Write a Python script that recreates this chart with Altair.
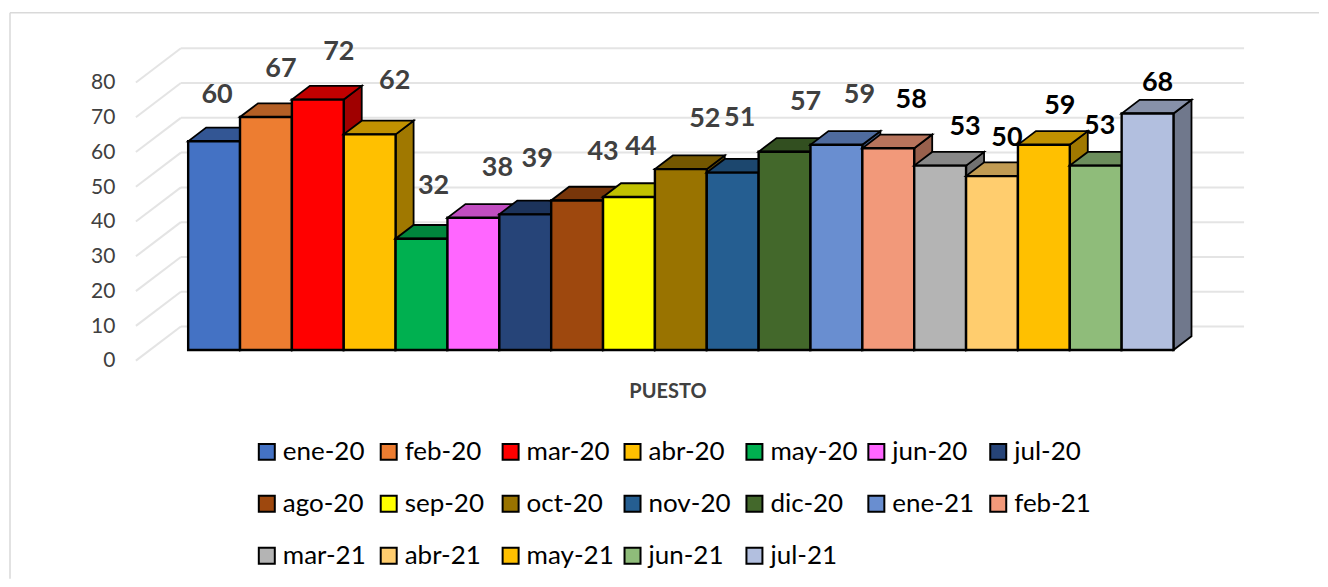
import altair as alt
import pandas as pd

months = ["ene-20","feb-20","mar-20","abr-20","may-20","jun-20","jul-20",
          "ago-20","sep-20","oct-20","nov-20","dic-20","ene-21","feb-21",
          "mar-21","abr-21","may-21","jun-21","jul-21"]
values = [60,67,72,62,32,38,39,43,44,52,51,57,59,58,53,50,59,53,68]
colors = ["#4472C4","#ED7D31","#FF0000","#FFC000","#00B050","#FF66FF","#264478",
          "#9E480E","#FFFF00","#997300","#255E91","#43682B","#698ED0","#F2997A",
          "#B4B4B4","#FFCD6E","#FFC000","#8FBC7A","#B2BFDF"]
# label nudges from the centre of each bar's top edge, in pixels
nudge_x = [3,15,21,25,12,24,12,26,12,24,7,21,23,23,25,15,16,4,10]
nudge_y = [46,48,48,53,53,50,55,48,50,50,55,50,50,48,39,38,39,40,31]
label_colors = ["#404040"]*13 + ["#000000"]*6
tick_values = [0,10,20,30,40,50,60,70,80]

W, H = 1312, 571
BAR_PX, UNIT_PX = 51.9, 3.48
X0_PAGE, Y0_PAGE = 188.3, 350.0
xdom = [(8-X0_PAGE)/BAR_PX, (8+W-X0_PAGE)/BAR_PX]
ydom = [(Y0_PAGE-(8+H))/UNIT_PX, (Y0_PAGE-8)/UNIT_PX]
DX, DY = 18/BAR_PX, 13.7/UNIT_PX
WALL_L, WALL_R = (181-X0_PAGE)/BAR_PX, (1245-X0_PAGE)/BAR_PX
FLOOR_L = (136-X0_PAGE)/BAR_PX
WALL_UP, FRONT_DOWN = (Y0_PAGE-326.5)/UNIT_PX, (Y0_PAGE-360.7)/UNIT_PX

xs = alt.Scale(domain=xdom, nice=False, zero=False)
ys = alt.Scale(domain=ydom, nice=False, zero=False)
fills = alt.Scale(domain=months, range=colors)
FONT = "Lato"

x_axis = alt.Axis(title="PUESTO", labels=False, ticks=False, domain=False, grid=False,
                  titleFont=FONT, titleFontSize=20, titleFontWeight="bold", titleColor="#404040",
                  titleX=660, titleY=-187, titleBaseline="middle")
y_axis = alt.Axis(values=tick_values, title=None, ticks=False, domain=False, grid=False,
                  offset=-107, labelPadding=0, labelOffset=11, labelFont=FONT, labelFontSize=21,
                  labelColor="#404040")

def shade(c, f):
    r, g, b = int(c[1:3],16), int(c[3:5],16), int(c[5:7],16)
    return "#%02X%02X%02X" % (int(r*f), int(g*f), int(b*f))

# frame
frame_top = alt.Chart(pd.DataFrame({"a":[0]})).mark_rule(color="#D9D9D9", strokeWidth=1.5).encode(
    x=alt.value(2), x2=alt.value(W), y=alt.value(4.5))
frame_left = alt.Chart(pd.DataFrame({"a":[0]})).mark_rule(color="#D9D9D9", strokeWidth=1.5).encode(
    x=alt.value(2), y=alt.value(4.5), y2=alt.value(H))

# back wall and left wall lines
grid = pd.DataFrame({"v": tick_values})
grid["wx1"], grid["wx2"] = WALL_L, WALL_R
grid["wy"] = grid.v + WALL_UP
grid["fx"] = FLOOR_L
grid["fy"] = grid.v + FRONT_DOWN

wall = alt.Chart(grid).mark_rule(color="#E4E4E4", strokeWidth=2).encode(
    x=alt.X("wx1:Q", scale=xs, axis=x_axis),
    x2="wx2:Q",
    y=alt.Y("wy:Q", scale=ys, axis=y_axis))
diag = alt.Chart(grid).mark_rule(color="#E4E4E4", strokeWidth=2).encode(
    x=alt.X("fx:Q", scale=xs, axis=x_axis), x2="wx1:Q",
    y=alt.Y("fy:Q", scale=ys, axis=y_axis),
    y2="wy:Q")

layers = [frame_top, frame_left, wall, diag]
for i, (m, v, c) in enumerate(zip(months, values, colors)):
    top = pd.DataFrame({"x":[i, i+DX, i+1, i+1+DX],
                        "lo":[v, v, v, v+DY],
                        "hi":[v, v+DY, v+DY, v+DY]})
    side = pd.DataFrame({"x":[i+1, i+1+DX],
                         "lo":[0, DY],
                         "hi":[v, v+DY]})
    for df, f in ((side, 0.63), (top, 0.76)):
        layers.append(alt.Chart(df).mark_area(fill=shade(c, f), stroke="#000000", strokeWidth=1.8,
                                              interpolate="linear", opacity=1).encode(
            x=alt.X("x:Q", scale=xs, axis=x_axis),
            y=alt.Y("lo:Q", scale=ys, axis=y_axis),
            y2="hi:Q"))
    front = pd.DataFrame({"month":[m], "x0":[i], "x1":[i+1], "y0":[0], "y1":[v]})
    legend = None
    if i == 0:
        legend = alt.Legend(title=None, orient="none", legendX=246, legendY=431, columns=7,
                            direction="horizontal",
                            symbolType="square", symbolSize=256, symbolStrokeColor="#000000",
                            symbolStrokeWidth=2, symbolOpacity=1, symbolOffset=0,
                            labelFont=FONT, labelFontSize=26, labelColor="#000000",
                            labelOffset=3, rowPadding=26, columnPadding=5, gridAlign="all",
                            labelLimit=200, values=months)
    layers.append(alt.Chart(front).mark_rect(stroke="#000000", strokeWidth=2.4).encode(
        x=alt.X("x0:Q", scale=xs, axis=x_axis), x2="x1:Q",
        y=alt.Y("y0:Q", scale=ys, axis=y_axis), y2="y1:Q",
        fill=alt.Fill("month:N", scale=fills, legend=legend, sort=months)))

labels = pd.DataFrame({
    "t": values,
    "lx": [i + 0.5 + n/BAR_PX for i, n in enumerate(nudge_x)],
    "ly": [v + n/UNIT_PX for v, n in zip(values, nudge_y)],
    "c": label_colors})
layers.append(alt.Chart(labels).mark_text(font=FONT, fontSize=27, fontWeight="bold").encode(
    x=alt.X("lx:Q", scale=xs, axis=x_axis),
    y=alt.Y("ly:Q", scale=ys, axis=y_axis),
    text="t:Q",
    color=alt.Color("c:N", scale=None)))

chart = alt.layer(*layers).properties(width=W, height=H, padding=0, background="#FFFFFF"
    ).configure_view(stroke=None)
chart.save("out.html", embed_options={"renderer": "svg", "actions": False})
